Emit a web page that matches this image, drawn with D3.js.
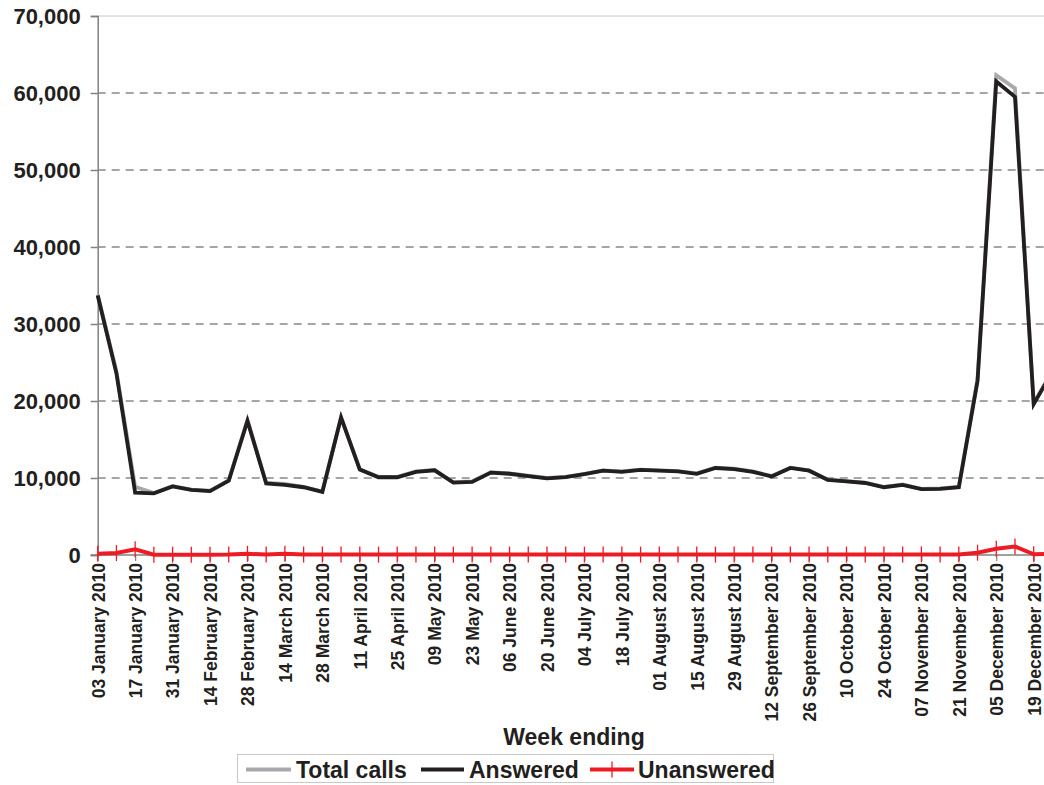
<!DOCTYPE html>
<html>
<head>
<meta charset="utf-8">
<script src="https://cdn.jsdelivr.net/npm/d3@7"></script>
<style>
  html, body { margin: 0; padding: 0; background: #fff; overflow: hidden; }
  svg { display: block; font-family: "Liberation Sans", Arial, sans-serif; }
</style>
</head>
<body>
<svg id="chart" width="1044" height="785"></svg>
<script>
const weeks = [
  "03 January 2010","10 January 2010","17 January 2010","24 January 2010","31 January 2010",
  "07 February 2010","14 February 2010","21 February 2010","28 February 2010",
  "07 March 2010","14 March 2010","21 March 2010","28 March 2010",
  "04 April 2010","11 April 2010","18 April 2010","25 April 2010",
  "02 May 2010","09 May 2010","16 May 2010","23 May 2010","30 May 2010",
  "06 June 2010","13 June 2010","20 June 2010","27 June 2010",
  "04 July 2010","11 July 2010","18 July 2010","25 July 2010",
  "01 August 2010","08 August 2010","15 August 2010","22 August 2010","29 August 2010",
  "05 September 2010","12 September 2010","19 September 2010","26 September 2010",
  "03 October 2010","10 October 2010","17 October 2010","24 October 2010","31 October 2010",
  "07 November 2010","14 November 2010","21 November 2010","28 November 2010",
  "05 December 2010","12 December 2010","19 December 2010","26 December 2010"
];
const answered = [33700, 23600, 8100, 8000, 8900, 8450, 8300, 9650, 17400, 9300, 9100, 8800, 8200,
  17850, 11100, 10100, 10100, 10800, 11000, 9400, 9500, 10700, 10550, 10250, 9950, 10100,
  10500, 10950, 10800, 11050, 10950, 10850, 10550, 11300, 11150, 10800, 10200, 11300, 10950,
  9750, 9550, 9350, 8800, 9100, 8550, 8600, 8800, 22600, 61500, 59500, 19600, 23800];
const unanswered = [150, 250, 750, 30, 40, 40, 40, 60, 150, 60, 150, 60, 50,
  60, 50, 50, 50, 50, 50, 50, 50, 50, 50, 50, 50, 50,
  50, 50, 50, 50, 50, 50, 50, 50, 50, 50, 50, 50, 50,
  50, 50, 50, 60, 60, 80, 60, 60, 300, 800, 1100, 100, 150];
const totalCalls = [33850, 23850, 8850, 8050, 8950, 8500, 8350, 9700, 17550, 9350, 9250, 8850, 8250,
  17900, 11150, 10150, 10150, 10850, 11050, 9450, 9550, 10750, 10600, 10300, 10000, 10150,
  10550, 11000, 10850, 11100, 11000, 10900, 10600, 11350, 11200, 10850, 10250, 11350, 11000,
  9800, 9600, 9400, 8850, 9150, 8600, 8650, 8850, 22900, 62300, 60600, 19700, 23950];
const yTicks = [0, 10000, 20000, 30000, 40000, 50000, 60000, 70000];
const seriesNames = ["Total calls", "Answered", "Unanswered"];
const seriesColors = ["#a7a9ac", "#231f20", "#ed1c24"];

const svg = d3.select("#chart");
const plotLeft = 97.7, plotTop = 16, plotBottom = 555;
const step = 18.72;
const plotRight = plotLeft + step * (weeks.length - 1);

const x = d3.scalePoint().domain(d3.range(weeks.length)).range([plotLeft, plotRight]);
const y = d3.scaleLinear().domain([0, 70000]).range([plotBottom, plotTop]);

// gridlines
svg.append("g").selectAll("line").data(yTicks.filter(d => d > 0)).join("line")
  .attr("x1", plotLeft).attr("x2", 1100)
  .attr("y1", d => y(d)).attr("y2", d => y(d))
  .attr("stroke", d => d === 70000 ? "#c8c8c8" : "#4d4d4d")
  .attr("stroke-width", 1)
  .attr("stroke-dasharray", d => d === 70000 ? null : "8,6");

// y axis
const yAxis = d3.axisLeft(y).tickValues(yTicks).tickSize(7).tickPadding(10)
  .tickFormat(d3.format(","));
const gy = svg.append("g").attr("transform", `translate(${plotLeft},0)`).call(yAxis);
gy.select(".domain").attr("stroke", "#808080").attr("stroke-width", 1.5);
gy.selectAll(".tick line").attr("stroke", "#808080").attr("stroke-width", 1.5);
gy.selectAll(".tick text").attr("font-size", 22).attr("font-weight", "bold")
  .attr("fill", "#231f20").attr("font-family", "Liberation Sans, Arial, sans-serif");

// x axis
const xAxis = d3.axisBottom(x).tickValues(d3.range(0, weeks.length, 2))
  .tickSize(6).tickFormat(i => weeks[i]);
const gx = svg.append("g").attr("transform", `translate(0,${plotBottom})`).call(xAxis);
gx.select(".domain").attr("stroke", "#808080").attr("stroke-width", 1.5)
  .attr("d", `M${plotLeft - 7},0H${plotRight}`);
gx.selectAll(".tick line").attr("stroke", "#808080").attr("stroke-width", 1.2);
gx.selectAll(".tick text")
  .attr("font-size", 17.5).attr("font-weight", "bold").attr("fill", "#231f20")
  .attr("font-family", "Liberation Sans, Arial, sans-serif")
  .attr("transform", "rotate(-90)")
  .attr("text-anchor", "end")
  .attr("x", -8).attr("y", 0).attr("dy", "0.36em");

// lines
const line = d3.line().x((d, i) => x(i)).y(d => y(d));
const allSeries = [totalCalls, answered, unanswered];
allSeries.forEach((s, k) => {
  svg.append("path").datum(s)
    .attr("fill", "none")
    .attr("stroke", seriesColors[k])
    .attr("stroke-width", k === 2 ? 4 : 3.8)
    .attr("stroke-linejoin", "miter")
    .attr("d", line);
});
// plus markers for unanswered
svg.append("g").selectAll("line").data(unanswered).join("line")
  .attr("x1", (d, i) => x(i)).attr("x2", (d, i) => x(i))
  .attr("y1", d => y(d) - 8).attr("y2", d => y(d) + 8)
  .attr("stroke", seriesColors[2]).attr("stroke-width", 1.3);

// x title
svg.append("text").attr("x", 574).attr("y", 745).attr("text-anchor", "middle")
  .attr("font-size", 23).attr("font-weight", "bold").attr("fill", "#231f20")
  .text("Week ending");

// legend
const lg = svg.append("g");
lg.append("rect").attr("x", 237.5).attr("y", 754.5).attr("width", 536).attr("height", 28)
  .attr("fill", "#fff").attr("stroke", "#c8c8c8").attr("stroke-width", 1);
const legendItems = [
  { x1: 246, x2: 291, tx: 296 },
  { x1: 421, x2: 464, tx: 469 },
  { x1: 590, x2: 634, tx: 638 }
];
legendItems.forEach((it, k) => {
  lg.append("line").attr("x1", it.x1).attr("x2", it.x2).attr("y1", 769.5).attr("y2", 769.5)
    .attr("stroke", seriesColors[k]).attr("stroke-width", k === 2 ? 4 : 3.8);
  if (k === 2) {
    const mx = (it.x1 + it.x2) / 2;
    lg.append("line").attr("x1", mx).attr("x2", mx).attr("y1", 761.5).attr("y2", 777.5)
      .attr("stroke", seriesColors[2]).attr("stroke-width", 1.3);
  }
  lg.append("text").attr("x", it.tx).attr("y", 777.5)
    .attr("font-size", 23).attr("font-weight", "bold").attr("fill", "#231f20")
    .text(seriesNames[k]);
});
</script>
</body>
</html>
